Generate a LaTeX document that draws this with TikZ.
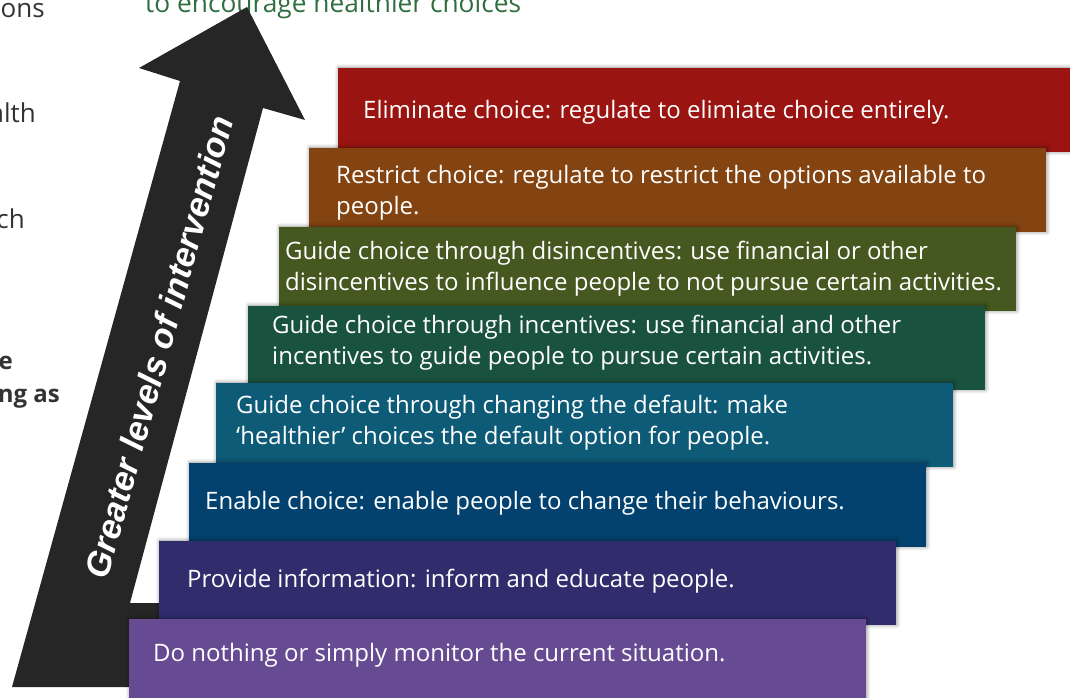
\documentclass[tikz,border=0pt]{standalone}
\usepackage{fontspec}
\setmainfont{Liberation Sans}
\newfontfamily\boxfont{Open Sans}
\usetikzlibrary{shadows.blur}
\definecolor{cRed}{HTML}{9A1411}
\definecolor{cOrange}{HTML}{834411}
\definecolor{cOlive}{HTML}{445820}
\definecolor{cDkGreen}{HTML}{1A5240}
\definecolor{cTeal}{HTML}{0E5B78}
\definecolor{cBlue}{HTML}{03426E}
\definecolor{cIndigo}{HTML}{312D6D}
\definecolor{cPurple}{HTML}{664A92}
\definecolor{cArrow}{HTML}{262626}
\definecolor{cGray}{HTML}{333333}
\definecolor{cGreenTxt}{HTML}{2F6F3F}
\begin{document}
\begin{tikzpicture}[x=1pt,y=-1pt,
  stepbox/.style={anchor=north west, minimum width=737pt, minimum height=84pt,
    inner sep=0pt, draw=none,
    blur shadow={shadow xshift=0.5pt, shadow yshift=0.5pt, shadow blur radius=4pt,
      shadow blur steps=8, shadow opacity=45}},
  steptext/.style={anchor=west, inner sep=0pt, align=left, text=white,
    font=\boxfont\fontsize{24}{31}\selectfont},
  sidetext/.style={anchor=base east, inner sep=0pt, text=cGray,
    font=\boxfont\fontsize{26}{30}\selectfont},
]
\useasboundingbox (0,0) rectangle (1070,698);
\clip (0,0) rectangle (1070,698);

% top and side text fragments
\node[anchor=base west, inner sep=0pt, text=cGreenTxt, font=\boxfont\fontsize{26.3}{30}\selectfont] (top) at (145,13) {to encourage healthier choices};
\node[sidetext] (s1) at (45,18) {ons};
\node[sidetext] (s2) at (36,123) {alth};
\node[sidetext] (s3) at (25,228) {ch};
\node[sidetext, font=\boxfont\fontsize{24}{28}\selectfont\bfseries] (s4) at (13,369) {e};
\node[sidetext, font=\boxfont\fontsize{24}{28}\selectfont\bfseries] (s5) at (60,402) {ng as};

% big arrow
\fill[cArrow] (247,7) coordinate (tip) -- (305,120) -- (263,108) -- (130,603) -- (175,603)
  -- (175,687) -- (12,687) -- (180,81) -- (139,68) -- cycle;
\node[rotate=74.7, inner sep=0pt, text=white,
  font=\fontsize{34.5}{38}\selectfont\bfseries\itshape] (arrowtext) at (159,347) {Greater levels of intervention};

% steps (top first, lower ones drawn over)
\node[stepbox, fill=cRed] (b1) at (338,68) {};
\node[stepbox, fill=cOrange] (b2) at (309,148) {};
\node[stepbox, fill=cOlive] (b3) at (279,227) {};
\node[stepbox, fill=cDkGreen] (b4) at (248,306) {};
\node[stepbox, fill=cTeal] (b5) at (216,383) {};
\node[stepbox, fill=cBlue] (b6) at (189,463) {};
\node[stepbox, fill=cIndigo] (b7) at (159,541) {};
\node[stepbox, fill=cPurple, minimum height=90pt] (b8) at (129,619) {};

\node[steptext] (t1) at (363,112) {Eliminate choice: regulate to elimiate choice entirely.};
\node[steptext] (t2) at (336,193) {Restrict choice: regulate to restrict the options available to\\people.};
\node[steptext] (t3) at (285,269) {Guide choice through disincentives: use financial or other\\disincentives to influence people to not pursue certain activities.};
\node[steptext] (t4) at (272,343) {Guide choice through incentives: use financial and other\\incentives to guide people to pursue certain activities.};
\node[steptext] (t5) at (236,423) {Guide choice through changing the default: make\\‘healthier’ choices the default option for people.};
\node[steptext] (t6) at (205,503) {Enable choice: enable people to change their behaviours.};
\node[steptext] (t7) at (187,581) {Provide information: inform and educate people.};
\node[steptext] (t8) at (153,655) {Do nothing or simply monitor the current situation.};
\end{tikzpicture}
\end{document}
